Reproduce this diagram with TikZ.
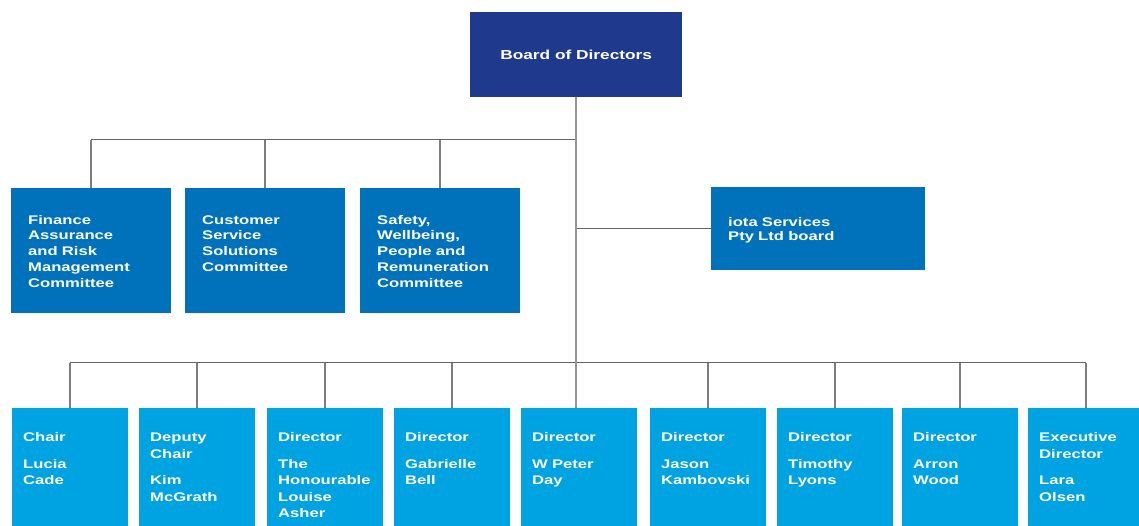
\documentclass[tikz,border=0pt]{standalone}
\usepackage{fontspec}
\setmainfont{Liberation Sans}[FakeStretch=1.33]
\definecolor{navy}{RGB}{31,58,140}
\definecolor{midblue}{RGB}{0,114,188}
\definecolor{lightblue}{RGB}{0,163,226}
\definecolor{busgray}{RGB}{100,100,100}
\definecolor{trunkgray}{RGB}{150,150,150}
\definecolor{dropgray}{RGB}{125,125,125}
\newcommand\orgfont{\fontsize{12.5}{15.75}\selectfont\bfseries}
\tikzset{
  boardbox/.style={fill=navy, text=white, anchor=north west, inner sep=0pt,
    minimum width=212pt, minimum height=85pt, font=\fontsize{13}{16}\selectfont\bfseries},
  cbox/.style={fill=midblue, text=white, anchor=north west, align=left,
    inner xsep=17pt, inner ysep=0pt, text width=126pt, text height=36pt, text depth=89pt,
    font=\orgfont},
  iotabox/.style={fill=midblue, text=white, anchor=north west, align=left,
    inner xsep=17pt, inner ysep=0pt, text width=180pt, text height=39pt, text depth=44pt,
    font=\fontsize{12.5}{14}\selectfont\bfseries},
  pbox/.style={fill=lightblue, text=white, anchor=north west, align=left,
    inner xsep=11pt, inner ysep=0pt, text width=94pt, text height=33.7pt, text depth=110pt,
    font=\fontsize{12.5}{16.5}\selectfont\bfseries},
  trunk/.style={draw=trunkgray, line width=2.5pt},
  bus/.style={draw=busgray, line width=1pt},
  dropline/.style={draw=dropgray, line width=1.5pt},
}
\begin{document}
\begin{tikzpicture}[x=1pt,y=1pt]
\useasboundingbox (0,0) rectangle (1139,526);
\fill[white] (0,0) rectangle (1139,526);
\clip (0,0) rectangle (1139,526);

% Board
\node[boardbox] (board) at (470,514) {Board of Directors};

% Committees
\node[cbox] (fin) at (11,338) {Finance\\Assurance\\and Risk\\Management\\Committee};
\node[cbox] (cust) at (185,338) {Customer\\Service\\Solutions\\Committee};
\node[cbox] (safe) at (360,338) {Safety,\\Wellbeing,\\People and\\Remuneration\\Committee};

% iota
\node[iotabox] (iota) at (711,339) {iota Services\\Pty Ltd board};

% Directors
\node[pbox] (chair) at (12,118) {Chair\\[10pt]Lucia\\Cade};
\node[pbox] (deputy) at (139,118) {Deputy\\Chair\\[10pt]Kim\\McGrath};
\node[pbox] (asher) at (267,118) {Director\\[10pt]The\\Honourable\\Louise\\Asher};
\node[pbox] (bell) at (394,118) {Director\\[10pt]Gabrielle\\Bell};
\node[pbox] (day) at (521,118) {Director\\[10pt]W Peter\\Day};
\node[pbox] (jason) at (650,118) {Director\\[10pt]Jason\\Kambovski};
\node[pbox] (tim) at (777,118) {Director\\[10pt]Timothy\\Lyons};
\node[pbox] (arron) at (902,118) {Director\\[10pt]Arron\\Wood};
\node[pbox] (lara) at (1028,118) {Executive\\Director\\[10pt]Lara\\Olsen};

\coordinate (cbus) at (576,386);
\coordinate (dbus) at (576,163);

% Committee connectors
\draw[dropline] (fin.north) -- (fin.north |- cbus);
\draw[dropline] (cust.north) -- (cust.north |- cbus);
\draw[dropline] (safe.north) -- (safe.north |- cbus);
\draw[bus] (fin.north |- cbus) -- (cbus);

% iota connector
\draw[bus] (iota.west -| board.south) -- (iota.west);

% Director connectors
\draw[bus] (chair.north |- dbus) -- (lara.north |- dbus);
\foreach \n in {chair,deputy,asher,bell,jason,tim,arron,lara}
  \draw[dropline] (\n.north) -- (\n.north |- dbus);

% Trunk
\draw[trunk] (board.south) -- (board.south |- day.north);
\end{tikzpicture}
\end{document}
